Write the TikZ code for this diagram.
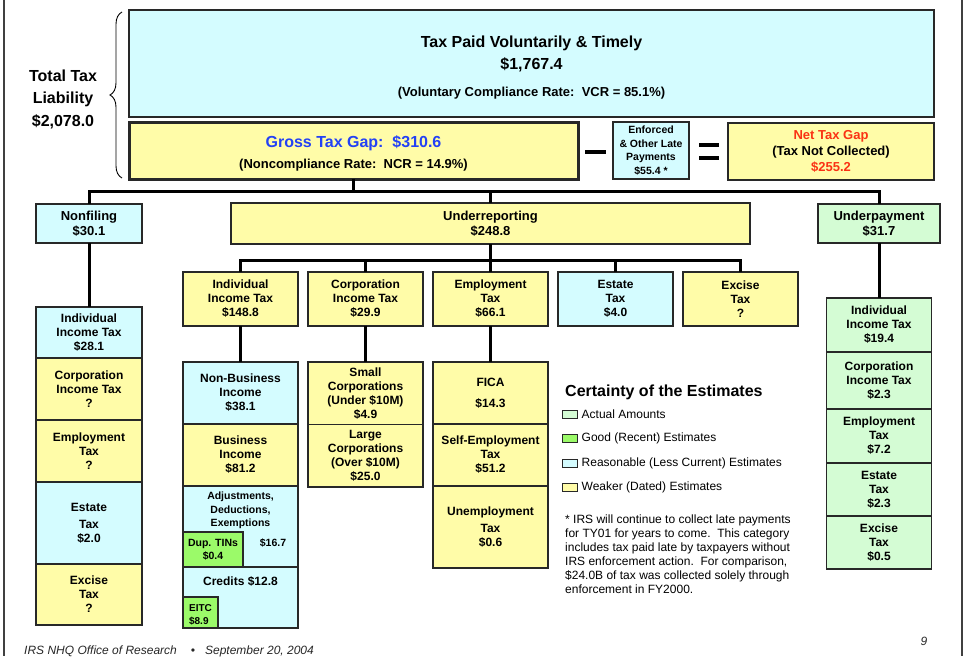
\documentclass[tikz,border=0pt]{standalone}
\usepackage{fontspec}
\setmainfont{Liberation Sans}
\usetikzlibrary{positioning,decorations.pathreplacing}
\definecolor{reasCyan}{RGB}{212,252,255}
\definecolor{weakYel}{RGB}{255,252,168}
\definecolor{actGrn}{RGB}{212,252,212}
\definecolor{goodGrn}{RGB}{155,250,105}
\definecolor{gapBlue}{RGB}{35,65,245}
\definecolor{netRed}{RGB}{250,50,20}
\definecolor{edgeG}{RGB}{40,40,40}

\begin{document}
\begin{tikzpicture}[x=1pt,y=-1pt]
  \tikzset{cell/.style={draw=edgeG,line width=1.4pt,fill=#1,align=center,inner sep=0pt,outer sep=0pt,font=\bfseries\fontsize{12}{14}\selectfont},
    wire/.style={line width=3pt,black},
    swatch/.style={draw=edgeG,line width=1pt,fill=#1,minimum width=15pt,minimum height=8pt,inner sep=0pt,outer sep=0pt},
    plain/.style={inner sep=0pt,align=left,font=\fontsize{12}{14}\selectfont}}
  \useasboundingbox (0,0) rectangle (965,656);
  \draw[line width=1.3pt,black!75] (4,0) -- (4,656) (962,0) -- (962,656);

  \node[cell=reasCyan,minimum width=805pt,minimum height=107pt,font=\bfseries\fontsize{16}{22}\selectfont] (paid) at (531.5,63.5) {\rule{0pt}{20pt}Tax Paid Voluntarily \& Timely\\\$1,767.4\\[5pt]{\fontsize{13}{15}\selectfont (Voluntary Compliance Rate:\ \ VCR = 85.1\%)}};
  \node[cell=weakYel,line width=3pt,minimum width=449pt,minimum height=57pt,font=\bfseries\fontsize{13}{21}\selectfont] (gross) at (353.5,150.5) {\rule{0pt}{18pt}\textcolor{gapBlue}{\fontsize{16}{21}\selectfont Gross Tax Gap:\ \ \$310.6}\\(Noncompliance Rate:\ \ NCR = 14.9\%)};
  \node[cell=reasCyan,minimum width=76pt,minimum height=57pt,font=\bfseries\fontsize{10.5}{13.5}\selectfont] (late) at (651,150.5) {Enforced\\\& Other Late\\Payments\\\$55.4 *};
  \node[cell=weakYel,minimum width=206pt,minimum height=57pt,font=\bfseries\fontsize{13}{16}\selectfont] (net) at (831,151.5) {\textcolor{netRed}{Net Tax Gap}\\(Tax Not Collected)\\\textcolor{netRed}{\$255.2}};
  \draw[line width=4pt] ([xshift=7pt,yshift=-1.5pt]gross.east) -- ([xshift=28pt,yshift=-1.5pt]gross.east);
  \draw[line width=4pt] ([xshift=10pt,yshift=5.5pt]late.east) -- ([xshift=30pt,yshift=5.5pt]late.east)
    ([xshift=10pt,yshift=-7.5pt]late.east) -- ([xshift=30pt,yshift=-7.5pt]late.east);
  \node[align=center,font=\bfseries\fontsize{16}{22.5}\selectfont] (total) at (63,99) {Total Tax\\Liability\\\$2,078.0};
  \draw[decorate,decoration={brace,amplitude=12pt},line width=0.9pt] ([xshift=-7pt,yshift=1pt]gross.south west) -- ([xshift=-7pt,yshift=-2pt]paid.north west);

  \node[cell=reasCyan,minimum width=106pt,minimum height=39pt,font=\bfseries\fontsize{13}{15}\selectfont] (nonfil) at (89,223.5) {Nonfiling\\\$30.1};
  \node[cell=weakYel,minimum width=519pt,minimum height=41pt,font=\bfseries\fontsize{13}{15}\selectfont] (underrep) at (490.5,223.5) {Underreporting\\\$248.8};
  \node[cell=actGrn,minimum width=122pt,minimum height=39pt,font=\bfseries\fontsize{13}{15}\selectfont] (underpay) at (879,223.5) {Underpayment\\\$31.7};
  \draw[wire] (gross.south) -- ++(0,12) coordinate (gapHub);
  \foreach \t in {nonfil,underrep,underpay}
    \draw[wire] (gapHub) -| (\t.north);

  \node[cell=weakYel,minimum width=115pt,minimum height=54pt] (urIndiv) at (240.5,299) {Individual\\Income Tax\\\$148.8};
  \node[cell=weakYel,minimum width=115pt,minimum height=54pt,right=10pt of urIndiv] (urCorp) {Corporation\\Income Tax\\\$29.9};
  \node[cell=weakYel,minimum width=115pt,minimum height=54pt,right=10pt of urCorp] (urEmp) {Employment\\Tax\\\$66.1};
  \node[cell=reasCyan,minimum width=115pt,minimum height=54pt,right=10pt of urEmp] (urEst) {Estate\\Tax\\\$4.0};
  \node[cell=weakYel,minimum width=115pt,minimum height=54pt,right=10pt of urEst] (urExc) {Excise\\Tax\\?};
  \draw[wire] (underrep.south) -- ++(0,16) coordinate (repHub);
  \foreach \t in {urIndiv,urCorp,urEmp,urEst,urExc}
    \draw[wire] (repHub) -| (\t.north);

  \node[cell=reasCyan,minimum width=106pt,minimum height=51pt,below=64pt of nonfil] (nfIndiv) {Individual\\Income Tax\\\$28.1};
  \node[cell=weakYel,minimum width=106pt,minimum height=62pt,below=0pt of nfIndiv] (nfCorp) {Corporation\\Income Tax\\?};
  \node[cell=weakYel,minimum width=106pt,minimum height=62pt,below=0pt of nfCorp] (nfEmp) {Employment\\Tax\\?};
  \node[cell=reasCyan,minimum width=106pt,minimum height=82pt,below=0pt of nfEmp] (nfEst) {Estate\\[3pt]Tax\\\$2.0};
  \node[cell=weakYel,minimum width=106pt,minimum height=61pt,below=0pt of nfEst] (nfExc) {Excise\\Tax\\?};

  \node[cell=reasCyan,minimum width=115pt,minimum height=62pt,below=36pt of urIndiv] (nonbus) {Non-Business\\Income\\\$38.1};
  \node[cell=weakYel,minimum width=115pt,minimum height=62pt,below=0pt of nonbus] (bus) {Business\\Income\\\$81.2};
  \node[cell=reasCyan,minimum width=115pt,minimum height=81pt,below=0pt of bus] (adj) {};
  \node[cell=reasCyan,minimum width=115pt,minimum height=61pt,below=0pt of adj] (cred) {};
  \node[inner sep=0pt,align=center,font=\bfseries\fontsize{10.5}{13.5}\selectfont,below=6pt of adj.north] (adjTxt) {Adjustments,\\Deductions,\\Exemptions};
  \node[cell=goodGrn,minimum width=60pt,minimum height=35pt,anchor=south west,font=\bfseries\fontsize{10.5}{13}\selectfont] (dup) at (adj.south west) {Dup. TINs\\\$0.4};
  \node[inner sep=0pt,font=\bfseries\fontsize{10.5}{13}\selectfont] (adjAmt) at (273,543) {\$16.7};
  \node[inner sep=0pt,font=\bfseries\fontsize{12}{14}\selectfont,below=9pt of cred.north] (credTxt) {Credits \$12.8};
  \node[cell=goodGrn,minimum width=35pt,minimum height=31pt,anchor=south west,align=left,font=\bfseries\fontsize{10}{13}\selectfont] (eitc) at (cred.south west) {\rule{0pt}{12pt}EITC\\\$8.9};

  \node[cell=weakYel,minimum width=115pt,minimum height=62.5pt,below=36pt of urCorp] (smallCo) {Small\\Corporations\\(Under \$10M)\\\$4.9};
  \node[cell=weakYel,minimum width=115pt,minimum height=62.5pt,below=0pt of smallCo] (largeCo) {Large\\Corporations\\(Over \$10M)\\\$25.0};

  \node[cell=weakYel,minimum width=115pt,minimum height=62pt,below=36pt of urEmp] (fica) {FICA\\[7pt]\$14.3};
  \node[cell=weakYel,minimum width=115pt,minimum height=62pt,below=0pt of fica] (selfEmp) {Self-Employment\\Tax\\\$51.2};
  \node[cell=weakYel,minimum width=115pt,minimum height=82pt,below=0pt of selfEmp] (unemp) {Unemployment\\[3pt]Tax\\\$0.6};

  \node[cell=actGrn,minimum width=105pt,minimum height=54pt,below=55pt of underpay] (upIndiv) {Individual\\Income Tax\\\$19.4};
  \node[cell=actGrn,minimum width=105pt,minimum height=57pt,below=0pt of upIndiv] (upCorp) {Corporation\\Income Tax\\\$2.3};
  \node[cell=actGrn,minimum width=105pt,minimum height=54pt,below=0pt of upCorp] (upEmp) {Employment\\Tax\\\$7.2};
  \node[cell=actGrn,minimum width=105pt,minimum height=53pt,below=0pt of upEmp] (upEst) {Estate\\Tax\\\$2.3};
  \node[cell=actGrn,minimum width=105pt,minimum height=53pt,below=0pt of upEst] (upExc) {Excise\\Tax\\\$0.5};

  \foreach \a/\b in {nonfil/nfIndiv,underpay/upIndiv,urIndiv/nonbus,urCorp/smallCo,urEmp/fica}
    \draw[wire] (\a) -- (\b);

  \node[anchor=west,inner sep=0pt,font=\bfseries\fontsize{16}{19}\selectfont] (legTitle) at (565,392) {Certainty of the Estimates};
  \foreach \fl/\txt [count=\i] in {actGrn/Actual Amounts,goodGrn/Good (Recent) Estimates,reasCyan/Reasonable (Less Current) Estimates,weakYel/Weaker (Dated) Estimates} {
    \node[swatch=\fl] (sw\i) at (570,{389.5+24.5*\i}) {};
    \node[plain,right=4pt of sw\i] (lg\i) {\txt};
  }
  \node[plain,anchor=north west] (note) at (565,515) {* IRS will continue to collect late payments\\for TY01 for years to come.\ \ This category\\includes tax paid late by taxpayers without\\IRS enforcement action.\ \ For comparison,\\\$24.0B of tax was collected solely through\\enforcement in FY2000.};

  \node[plain,anchor=base west,font=\itshape\fontsize{12}{14}\selectfont,black!85] (foot) at (24,654) {IRS NHQ Office of Research\hspace{14pt}\textbullet\hspace{10pt}September 20, 2004};
  \node[plain,anchor=base,font=\itshape\fontsize{12}{14}\selectfont,black!85] (pageNo) at (924,645) {9};
\end{tikzpicture}
\end{document}
